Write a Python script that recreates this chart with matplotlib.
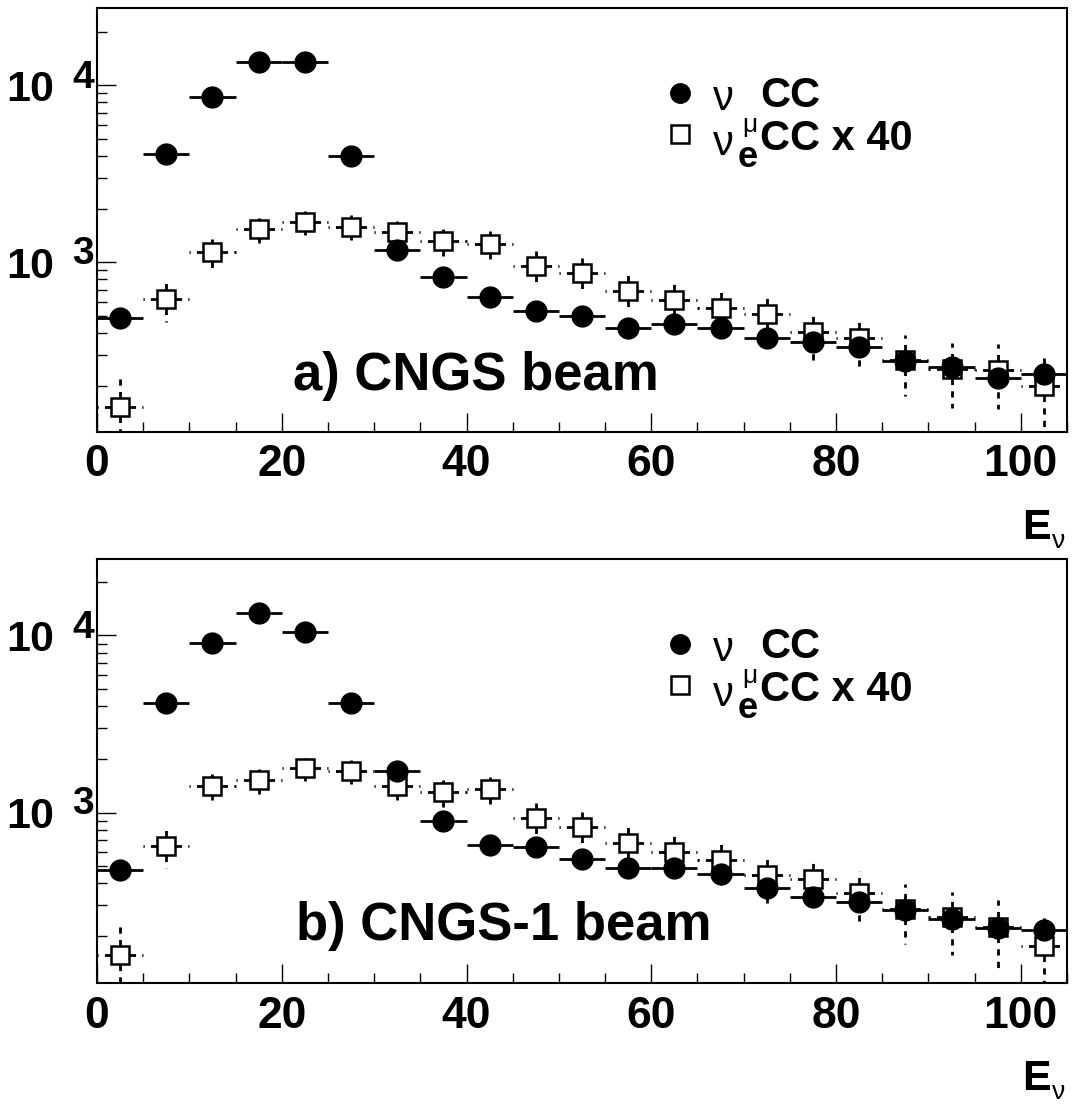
"""Two-panel CNGS beam spectra: nu_mu CC and nu_e CC x 40 vs E_nu (log y)."""
import matplotlib
matplotlib.use("Agg")
import matplotlib.pyplot as plt
from matplotlib.collections import LineCollection
from matplotlib.ticker import MultipleLocator, LogLocator, NullFormatter, FixedLocator, FuncFormatter

plt.rcParams["font.family"] = ["Liberation Sans", "DejaVu Sans"]
plt.rcParams["font.weight"] = "bold"
plt.rcParams["lines.scale_dashes"] = False

# bin centres (GeV), bin half width 2.5
E_BINS = [2.5, 7.5, 12.5, 17.5, 22.5, 27.5, 32.5, 37.5, 42.5, 47.5, 52.5,
          57.5, 62.5, 67.5, 72.5, 77.5, 82.5, 87.5, 92.5, 97.5, 102.5]
HALF_W = 2.5

# a) CNGS beam
numu_a = [483, 4090, 8630, 13600, 13490, 3990, 1173, 830, 640, 531, 498,
          424, 446, 424, 372, 356, 333, 278, 255, 221, 234]
nue_a = [153, 621, 1148, 1542, 1683, 1589, 1476, 1319, 1269, 957, 867,
         689, 612, 554, 511, 405, 372, 281, 251, 247, 200]
nue_a_err = [78, 158, 214, 248, 259, 252, 243, 230, 225, 196, 186,
             166, 156, 149, 143, 127, 122, 106, 100, 99, 89]

# b) CNGS-1 beam
numu_b = [476, 4130, 9020, 13300, 10400, 4130, 1711, 893, 659, 639, 550,
          489, 483, 448, 377, 334, 312, 283, 252, 223, 218]
nue_b = [156, 646, 1408, 1521, 1773, 1718, 1408, 1307, 1349, 932, 823,
         673, 597, 537, 443, 422, 349, 287, 257, 226, 176]
nue_b_err = [79, 161, 237, 247, 266, 262, 237, 229, 232, 193, 181,
             164, 155, 147, 133, 130, 118, 107, 101, 95, 84]

W, H = 1072, 1106
PT = 100 / 72.0  # px per point


def frac(px, py):
    # reference pixel (relative to axes top-left) -> axes fraction
    return px / 970.0, 1 - py / 424.0


def panel(ax, numu, nue, nue_err, label, ylim, lab_xy):
    ax.set_yscale("log")
    # nu_e error bars: dashed, starting at the marker edge
    segs = []
    for x, y, e in zip(E_BINS, nue, nue_err):
        lo = max(y - e, ylim[0] * 0.5)
        segs += [[(x, y), (x, y + e)], [(x, y), (x, lo)],
                 [(x, y), (x - HALF_W, y)], [(x, y), (x + HALF_W, y)]]
    ax.add_collection(LineCollection(segs, colors="black", linewidths=2,
                                     linestyles=[(2.3, (4.5, 4.5))], zorder=2))
    ax.plot(E_BINS, nue, ls="none", marker="s", ms=13, mfc="white", mec="black",
            mew=1.8, zorder=3)
    ax.errorbar(E_BINS, numu, xerr=HALF_W, fmt="o", ms=15, color="black",
                elinewidth=2, capsize=0, zorder=4)
    ax.set_xlim(0, 105); ax.set_ylim(*ylim)

    for s in ax.spines.values():
        s.set_linewidth(1.5)
    ax.xaxis.set_major_locator(MultipleLocator(20))
    ax.xaxis.set_minor_locator(MultipleLocator(5))
    ax.yaxis.set_major_locator(FixedLocator([1e3, 1e4]))
    ax.yaxis.set_major_formatter(FuncFormatter(lambda v, p: "10"))
    ax.yaxis.set_minor_locator(LogLocator(base=10, subs=range(2, 10)))
    ax.yaxis.set_minor_formatter(NullFormatter())
    ax.tick_params(which="both", direction="in", top=False, right=False, width=1)
    ax.tick_params(which="major", length=13.5)
    ax.tick_params(which="minor", length=7)
    ax.tick_params(axis="x", labelsize=32, pad=9)
    ax.tick_params(axis="y", labelsize=31, pad=31)

    for val, exp, dy in [(1e3, "3", -1.5), (1e4, "4", -2.5)]:
        ax.annotate(exp, xy=(0, val), xycoords=("axes fraction", "data"),
                    xytext=(-25 / PT, dy / PT), textcoords="offset points",
                    ha="left", va="baseline", fontsize=28)

    # axis title E_nu
    ax.annotate("E", xy=(1, 0), xycoords="axes fraction", xytext=(-16 / PT, -107 / PT),
                textcoords="offset points", ha="right", va="baseline", fontsize=31)
    ax.annotate("ν", xy=(1, 0), xycoords="axes fraction", xytext=(-15 / PT, -116 / PT),
                textcoords="offset points", ha="left", va="baseline", fontsize=19,
                fontweight="normal")

    # legend
    ax.plot(*frac(583, 85), marker="o", ms=14, color="black", transform=ax.transAxes,
            clip_on=False)
    ax.plot(*frac(583, 126), marker="s", ms=13, mfc="none", mec="black", mew=1.8,
            transform=ax.transAxes, clip_on=False)
    tx = dict(transform=ax.transAxes, ha="left", va="baseline")
    ax.text(*frac(616, 102), "ν", fontsize=30, fontweight="normal", **tx)
    ax.text(*frac(645, 124), "μ", fontsize=19, fontweight="normal", **tx)
    ax.text(*frac(663, 99), "CC", fontsize=30, **tx)
    ax.text(*frac(616, 147), "ν", fontsize=30, fontweight="normal", **tx)
    ax.text(*frac(641, 159), "e", fontsize=26, **tx)
    ax.text(*frac(663, 142), "CC x 40", fontsize=30, **tx)

    ax.text(lab_xy[0], lab_xy[1], label, transform=ax.transAxes, ha="left",
            va="baseline", fontsize=38)


fig = plt.figure(figsize=(W / 100, H / 100), dpi=100)
ax1 = fig.add_axes([97 / W, 1 - 432 / H, 970 / W, 424 / H])
ax2 = fig.add_axes([97 / W, 1 - 983 / H, 970 / W, 424 / H])

panel(ax1, numu_a, nue_a, nue_a_err, "a) CNGS beam", (110, 27350), (0.202, 0.099))
panel(ax2, numu_b, nue_b, nue_b_err, "b) CNGS-1 beam", (109, 27000), (0.205, 0.101))

fig.savefig("out.png", dpi=100)
